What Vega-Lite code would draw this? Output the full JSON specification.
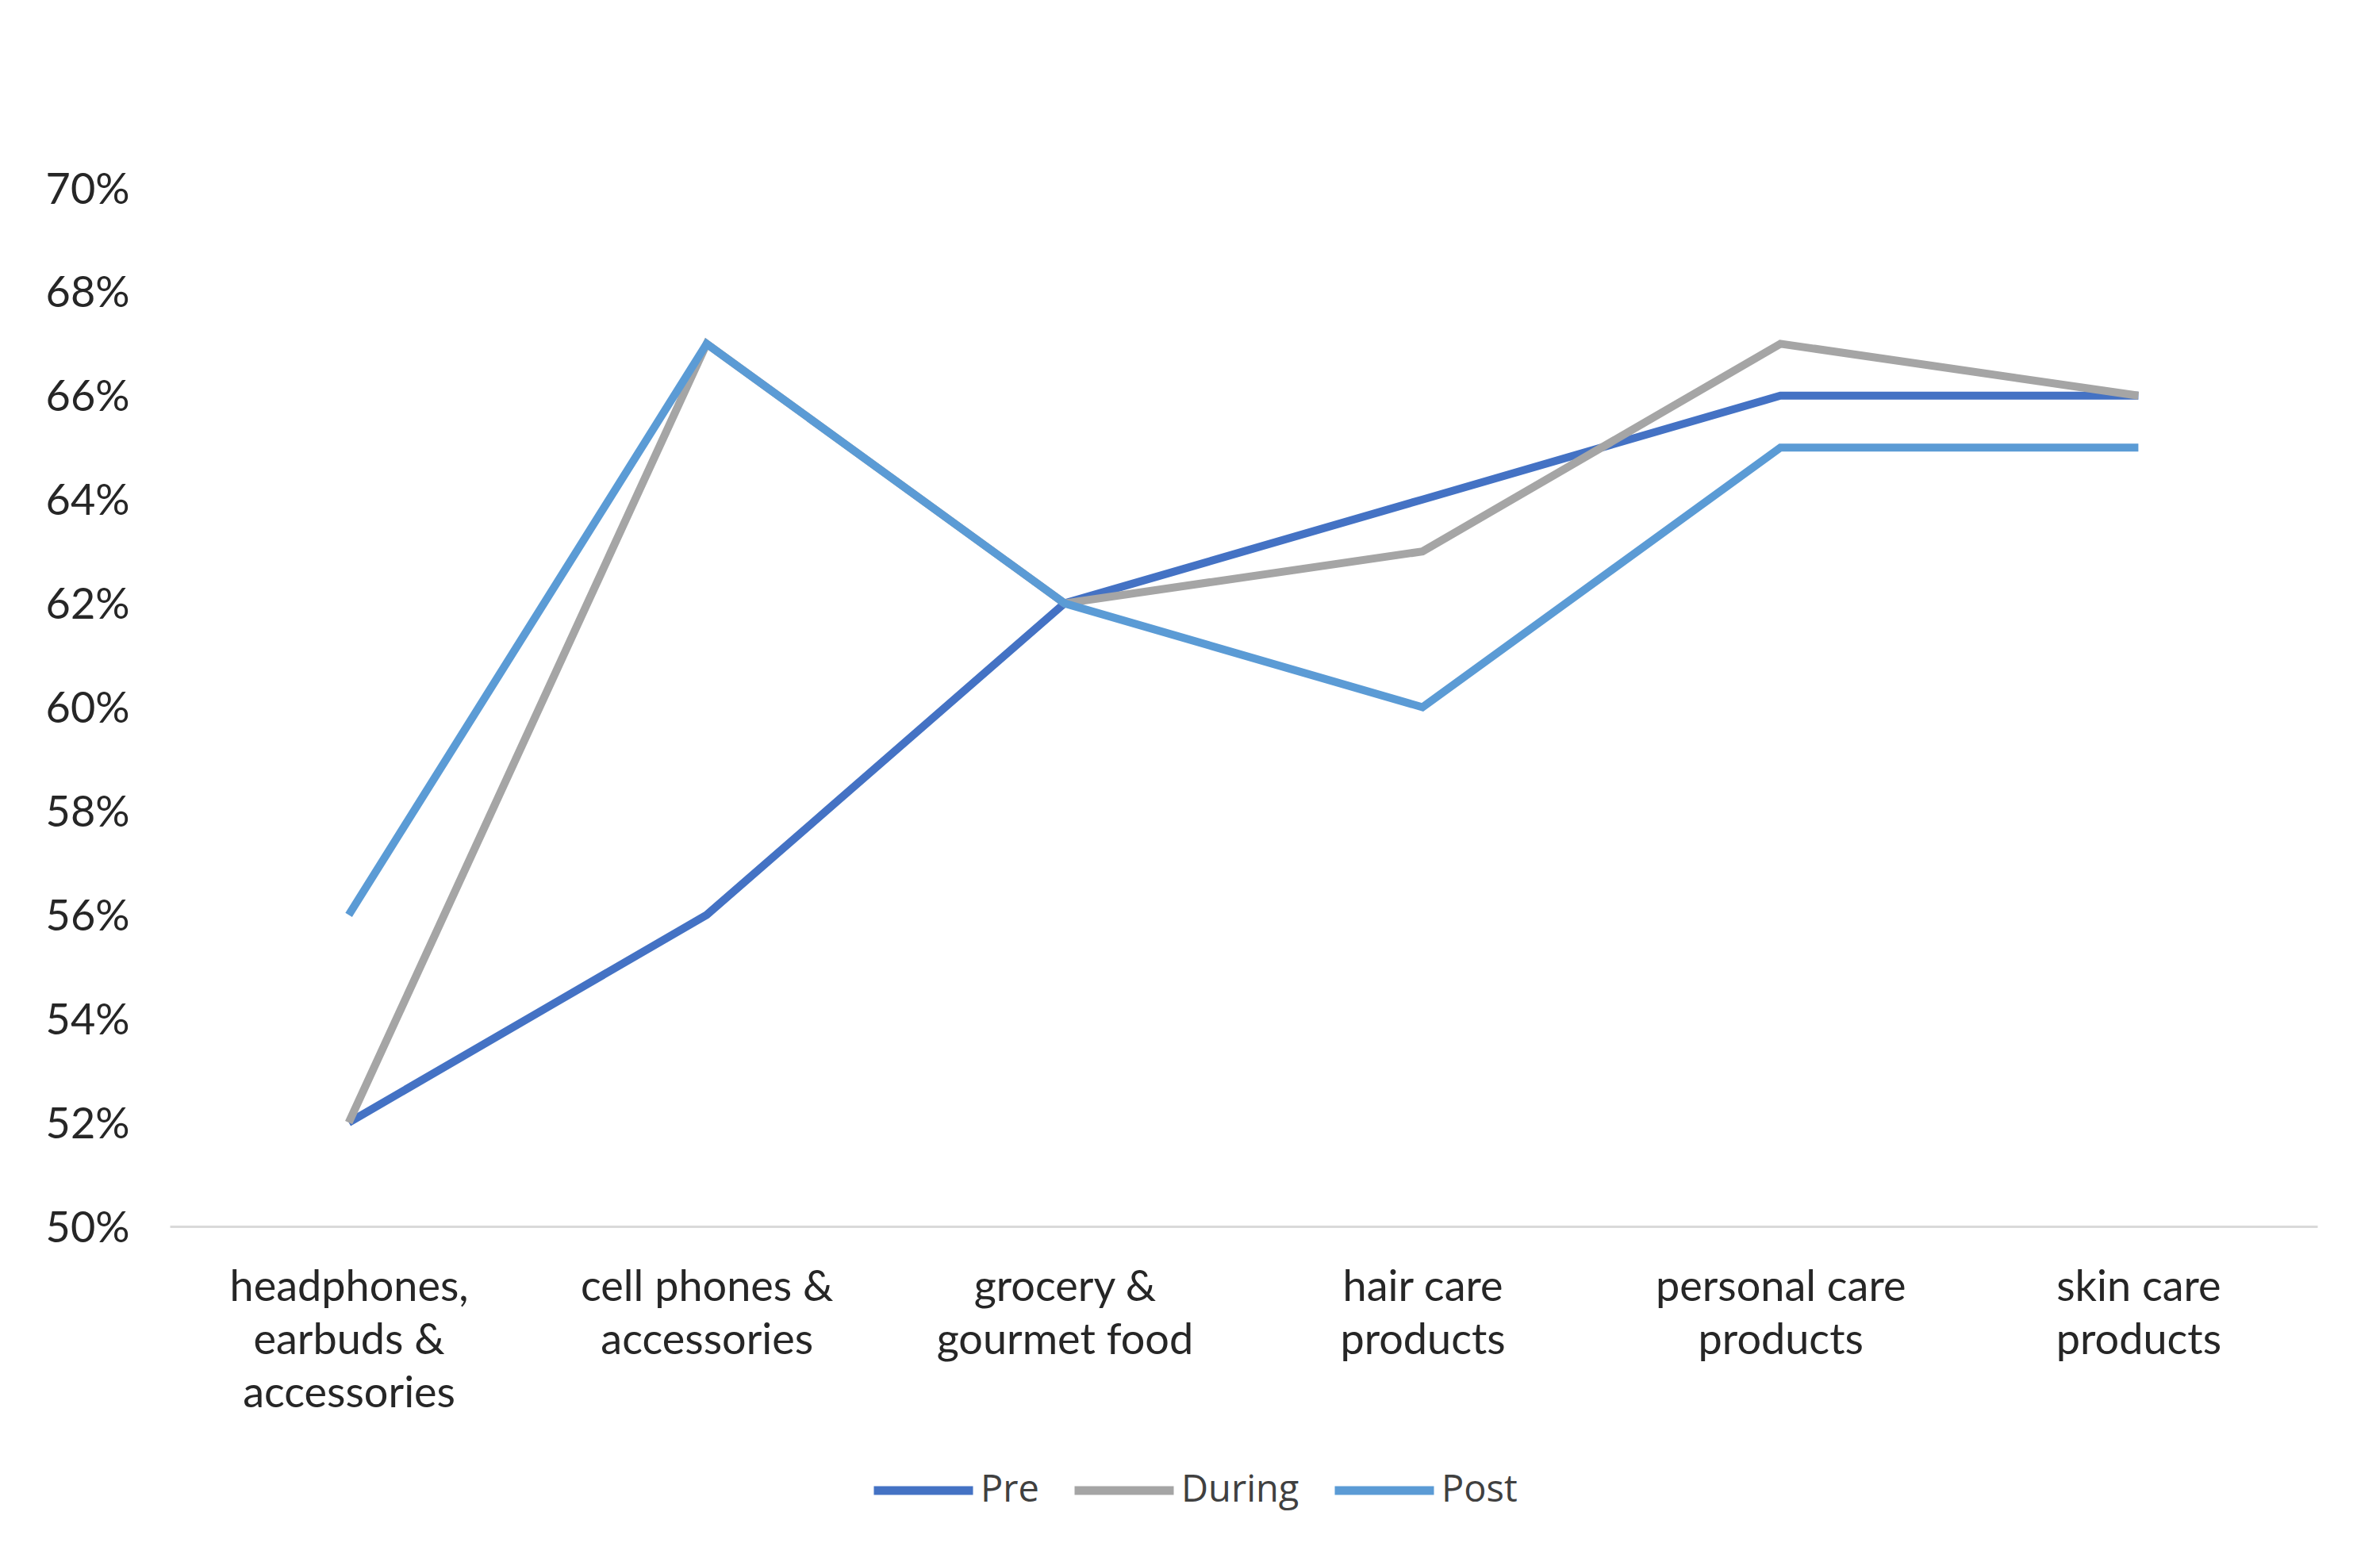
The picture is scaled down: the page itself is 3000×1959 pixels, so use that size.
{
  "$schema": "https://vega.github.io/schema/vega-lite/v6.json",
  "autosize": {"type": "none"},
  "width": 2707,
  "height": 1309,
  "padding": {"left": 214, "top": 237, "right": 79, "bottom": 413},
  "background": "white",
  "config": {
    "view": {"stroke": null},
    "font": "Lato"
  },
  "data": {
    "values": [
      {"category": "headphones, earbuds & accessories", "period": "Pre", "value": 52},
      {"category": "cell phones & accessories", "period": "Pre", "value": 56},
      {"category": "grocery & gourmet food", "period": "Pre", "value": 62},
      {"category": "hair care products", "period": "Pre", "value": 64},
      {"category": "personal care products", "period": "Pre", "value": 66},
      {"category": "skin care products", "period": "Pre", "value": 66},
      {"category": "headphones, earbuds & accessories", "period": "During", "value": 52},
      {"category": "cell phones & accessories", "period": "During", "value": 67},
      {"category": "grocery & gourmet food", "period": "During", "value": 62},
      {"category": "hair care products", "period": "During", "value": 63},
      {"category": "personal care products", "period": "During", "value": 67},
      {"category": "skin care products", "period": "During", "value": 66},
      {"category": "headphones, earbuds & accessories", "period": "Post", "value": 56},
      {"category": "cell phones & accessories", "period": "Post", "value": 67},
      {"category": "grocery & gourmet food", "period": "Post", "value": 62},
      {"category": "hair care products", "period": "Post", "value": 60},
      {"category": "personal care products", "period": "Post", "value": 65},
      {"category": "skin care products", "period": "Post", "value": 65}
    ]
  },
  "mark": {"type": "line", "strokeWidth": 10, "strokeJoin": "miter", "strokeCap": "butt"},
  "encoding": {
    "x": {
      "field": "category",
      "type": "nominal",
      "sort": null,
      "scale": {"type": "point", "padding": 0.5},
      "axis": {
        "title": null,
        "labelAngle": 0,
        "ticks": false,
        "domainColor": "#d9d9d9",
        "domainWidth": 3,
        "labelFontSize": 54,
        "labelColor": "#262626",
        "labelPadding": 50,
        "labelLineHeight": 67,
        "labelBaseline": "top",
        "labelLimit": 600,
        "labelExpr": "datum.label == 'headphones, earbuds & accessories' ? ['headphones,', 'earbuds &', 'accessories'] : datum.label == 'cell phones & accessories' ? ['cell phones &', 'accessories'] : datum.label == 'grocery & gourmet food' ? ['grocery &', 'gourmet food'] : datum.label == 'hair care products' ? ['hair care', 'products'] : datum.label == 'personal care products' ? ['personal care', 'products'] : ['skin care', 'products']"
      }
    },
    "y": {
      "field": "value",
      "type": "quantitative",
      "scale": {"domain": [50, 70], "nice": false, "zero": false},
      "axis": {
        "title": null,
        "values": [50, 52, 54, 56, 58, 60, 62, 64, 66, 68, 70],
        "labelExpr": "datum.value + '%'",
        "grid": false,
        "domain": false,
        "ticks": false,
        "labelFontSize": 54,
        "labelColor": "#262626",
        "labelPadding": 51,
        "labelOffset": 3
      }
    },
    "color": {
      "field": "period",
      "type": "nominal",
      "sort": ["Pre", "During", "Post"],
      "scale": {"domain": ["Pre", "During", "Post"], "range": ["#4472C4", "#A5A5A5", "#5B9BD5"]},
      "legend": {
        "title": null,
        "orient": "none",
        "direction": "horizontal",
        "legendX": 882,
        "legendY": 1574,
        "symbolType": "stroke",
        "symbolSize": 15625,
        "symbolStrokeWidth": 11,
        "labelFontSize": 47,
        "labelFont": "Open Sans",
        "labelColor": "#404040",
        "labelOffset": 4,
        "columnPadding": 22
      }
    }
  }
}
